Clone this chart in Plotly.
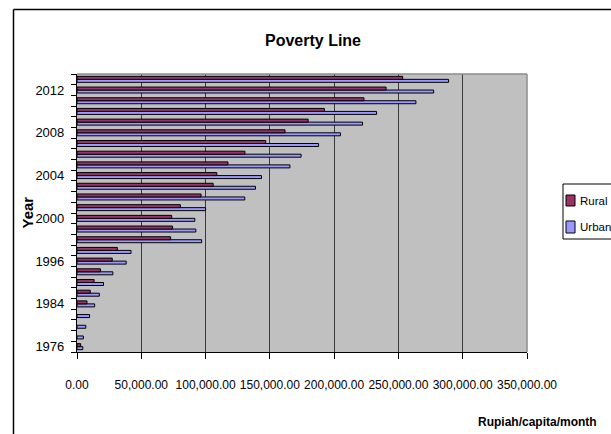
import plotly.graph_objects as go

# Poverty line survey years (bottom to top); 1996 appears twice (old and new method)
years = ["1976", "1978", "1980", "1981", "1984", "1987", "1990", "1993", "1996", "1996",
         "1998", "1999", "2000", "2001", "2002", "2003", "2004", "2005", "2006", "2007",
         "2008", "2009", "2010", "2011", "2012", "2013"]

# Rupiah per capita per month
rural = [2850, None, None, None, 7750, 10300, 13300, 18250, 27400, 31400,
         72800, 74300, 73650, 80400, 96500, 105900, 108700, 117400, 130600, 146800,
         161800, 179800, 192400, 223200, 240400, 253300]
urban = [4520, 4970, 6830, 9780, 13730, 17380, 20610, 27900, 38250, 42030,
         96960, 92410, 91630, 100000, 130500, 138800, 143500, 165600, 174300, 187900,
         204900, 222100, 233000, 263600, 277400, 289000]

x_ticks = [0, 50000, 100000, 150000, 200000, 250000, 300000, 350000]

RURAL_COLOR = "#993366"
URBAN_COLOR = "#9999FF"
FONT = "Liberation Sans, Arial, sans-serif"

W, H = 611, 434
L, R, T, B = 77, 527, 74, 352


def px(x):
    return (x - L) / (R - L)


def py(y):
    return (B - y) / (B - T)


pos = list(range(len(years)))

fig = go.Figure()
# Urban first so it sits below Rural inside each year group
fig.add_trace(go.Bar(
    y=pos, x=urban, orientation="h", name="Urban",
    marker=dict(color=URBAN_COLOR, line=dict(color="black", width=1)),
))
fig.add_trace(go.Bar(
    y=pos, x=rural, orientation="h", name="Rural",
    marker=dict(color=RURAL_COLOR, line=dict(color="black", width=1)),
))

fig.update_layout(
    width=W, height=H,
    margin=dict(l=L, r=W - R, t=T, b=H - B, pad=0),
    paper_bgcolor="white",
    plot_bgcolor="#C0C0C0",
    barmode="group",
    bargap=0.44,
    bargroupgap=0,
    showlegend=False,
    font=dict(family=FONT, size=12, color="black"),
    title=dict(
        text="Poverty Line", x=313 / W, y=1 - 40 / H,
        xref="container", yref="container", xanchor="center", yanchor="middle",
        font=dict(family=FONT, size=16, weight="bold", color="black"),
    ),
)

fig.update_xaxes(
    range=[0, 350000],
    tickvals=x_ticks,
    ticktext=[f"{v:,.2f}" for v in x_ticks],
    tickangle=0,
    showgrid=True, gridcolor="#3a3a3a", gridwidth=1,
    zeroline=False,
    showline=True, linecolor="black", linewidth=1.2,
    ticks="outside", ticklen=6, tickcolor="black", tickwidth=1,
    ticklabelstandoff=15,
    tickfont=dict(family=FONT, size=12),
)

fig.update_yaxes(
    range=[-0.5, len(years) - 0.5],
    tickvals=pos[::4],
    ticktext=years[::4],
    ticks="",
    showgrid=False, zeroline=False,
    showline=True, linecolor="black", linewidth=1.2,
    ticklabelstandoff=9,
    tickfont=dict(family=FONT, size=13),
    minor=dict(
        tickvals=[i - 0.5 for i in range(len(years) + 1)],
        ticks="outside", ticklen=5, tickcolor="black", tickwidth=1,
        showgrid=False,
    ),
)

shapes = [
    # gray plot-area frame on top and right
    dict(type="line", xref="paper", yref="paper", x0=0, x1=1, y0=1, y1=1,
         line=dict(color="#8c8c8c", width=1.5), layer="above"),
    dict(type="line", xref="paper", yref="paper", x0=1, x1=1, y0=0, y1=1,
         line=dict(color="#8c8c8c", width=1.5), layer="above"),
    # chart outer border
    dict(type="line", xref="paper", yref="paper", x0=px(13.5), x1=px(13.5),
         y0=py(9.5), y1=py(H + 20), line=dict(color="black", width=1.5)),
    dict(type="line", xref="paper", yref="paper", x0=px(13.5), x1=px(W + 20),
         y0=py(9.5), y1=py(9.5), line=dict(color="black", width=1.5)),
    # legend box and swatches
    dict(type="rect", xref="paper", yref="paper", x0=px(563), x1=px(W + 20),
         y0=py(239), y1=py(184), line=dict(color="black", width=1), fillcolor="white"),
    dict(type="rect", xref="paper", yref="paper", x0=px(566), x1=px(575),
         y0=py(206), y1=py(195), line=dict(color="black", width=1), fillcolor=RURAL_COLOR),
    dict(type="rect", xref="paper", yref="paper", x0=px(566), x1=px(575),
         y0=py(233), y1=py(221), line=dict(color="black", width=1), fillcolor=URBAN_COLOR),
]

annotations = [
    dict(text="Rural", xref="paper", yref="paper", x=px(577.5), y=py(201),
         xanchor="left", yanchor="middle", showarrow=False,
         font=dict(family=FONT, size=11.5)),
    dict(text="Urban", xref="paper", yref="paper", x=px(577.5), y=py(227),
         xanchor="left", yanchor="middle", showarrow=False,
         font=dict(family=FONT, size=11.5)),
    dict(text="Year", xref="paper", yref="paper", x=px(27), y=py(212.5),
         xanchor="center", yanchor="middle", textangle=-90, showarrow=False,
         font=dict(family=FONT, size=15, weight="bold")),
    dict(text="Rupiah/capita/month", xref="paper", yref="paper", x=px(537), y=py(422),
         xanchor="center", yanchor="middle", showarrow=False,
         font=dict(family=FONT, size=12, weight="bold")),
]

fig.update_layout(shapes=shapes, annotations=annotations)

fig.write_html("out.html")
